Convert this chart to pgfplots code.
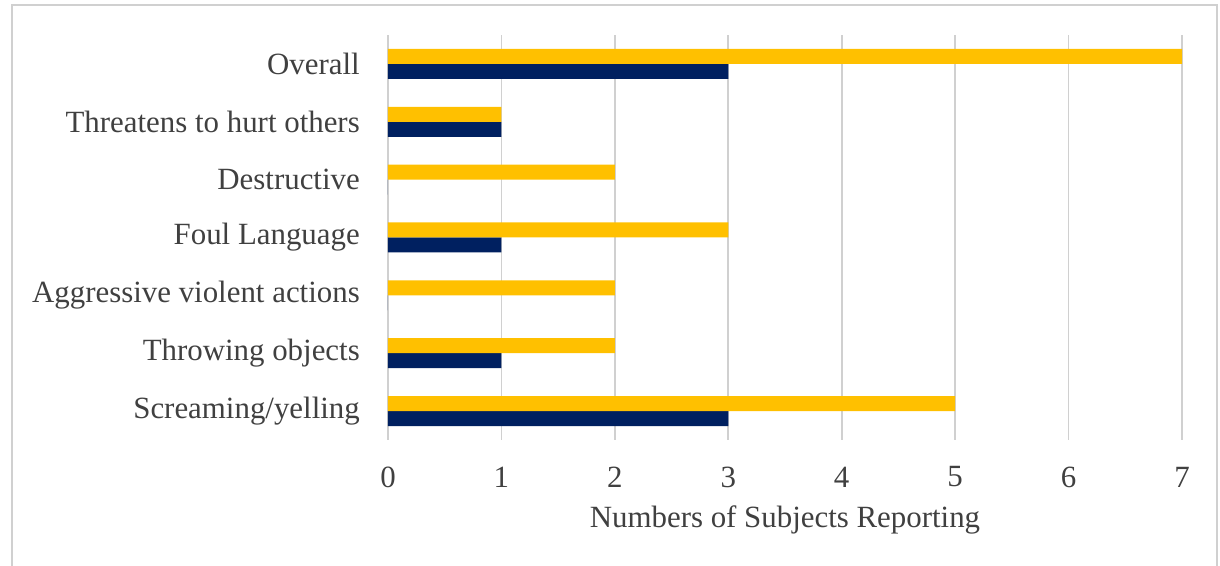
\documentclass[border=0pt]{standalone}
\usepackage{pgfplots}
\pgfplotsset{compat=1.18}
\usepackage{fontspec}
\setmainfont{Liberation Serif}
\definecolor{gold}{HTML}{FFC000}
\definecolor{navy}{HTML}{002060}
\definecolor{gridgray}{HTML}{D0D0D0}
\definecolor{txt}{HTML}{404040}
\begin{document}
\begin{tikzpicture}[x=1bp,y=1bp]
\begin{axis}[
  at={(0,0)}, anchor=south west,
  scale only axis, width=794bp, height=405bp,
  xbar, bar width=15bp,
  xmin=0, xmax=7, ymin=-0.5, ymax=6.5,
  xtick={0,...,7},
  ytick={0,...,6},
  yticklabels={Screaming/yelling,Throwing objects,Aggressive violent actions,Foul Language,Destructive,Threatens to hurt others,Overall},
  axis line style={draw=none},
  major tick length=0pt,
  xmajorgrids, major grid style={gridgray, line width=1.6bp},
  /pgf/number format/assume math mode=true,
  ticklabel style={font=\fontsize{31}{36}\selectfont, text=txt},
  xticklabel style={anchor=center, yshift=-37bp, inner sep=0pt},
  yticklabel style={anchor=east, xshift=-28bp, inner sep=0pt},
  xlabel={Numbers of Subjects Reporting},
  xlabel style={font=\fontsize{31}{36}\selectfont, text=txt, at={(axis description cs:0.5,0)}, anchor=center, yshift=-80bp, inner sep=0pt},
  clip=false,
]
\addplot[fill=navy, draw=none, bar shift=-7.5bp] coordinates {(3,0) (1,1) (0,2) (1,3) (0,4) (1,5) (3,6)};
\addplot[fill=gold, draw=none, bar shift=7.5bp] coordinates {(5,0) (2,1) (2,2) (3,3) (2,4) (1,5) (7,6)};
\end{axis}
\useasboundingbox (-388,-126) rectangle (832,440);
\draw[gridgray, line width=1.5bp] (-376,-130) -- (-376,435) -- (829,435) -- (829,-130);
\end{tikzpicture}
\end{document}
